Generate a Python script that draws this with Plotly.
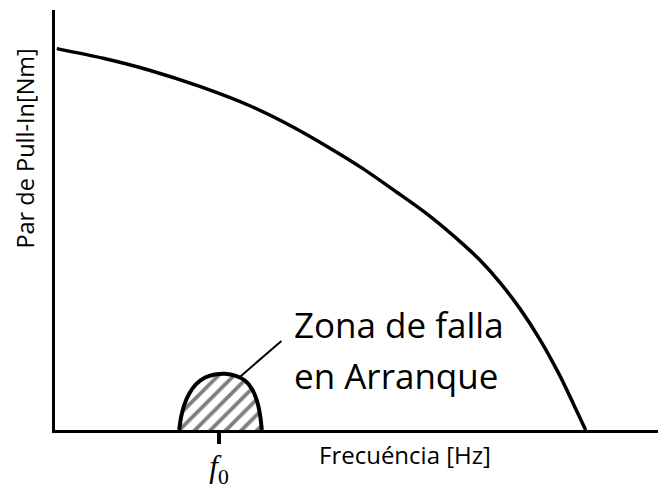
import plotly.graph_objects as go

# Pull-in torque curve (frequency vs torque, arbitrary units)
freq = [0.03, 0.8, 1.58, 2.4, 3.23, 3.9, 4.56, 5.1, 5.67, 6.2, 6.77, 7.05, 7.38, 7.71, 8.04, 8.37, 8.66, 8.80]
torque = [9.08, 8.85, 8.56, 8.18, 7.72, 7.25, 6.71, 6.23, 5.66, 5.11, 4.42, 4.04, 3.51, 2.89, 2.16, 1.30, 0.43, 0.0]

# Start-up failure zone around f0
zone_x = [2.06, 2.09, 2.14, 2.22, 2.34, 2.49, 2.65, 2.82, 3.00, 3.15, 3.27, 3.35, 3.40, 3.43]
zone_y = [0.0, 0.30, 0.58, 0.85, 1.09, 1.25, 1.32, 1.34, 1.29, 1.18, 0.97, 0.69, 0.37, 0.0]

f0 = 2.72
f0_label = "<i>f</i><sub>0</sub>"
zone_lines = ["Zona de falla", "en Arranque"]
x_title = "Frecuéncia [Hz]"
y_title = "Par de Pull-In[Nm]"

fig = go.Figure()

fig.add_trace(go.Scatter(
    x=zone_x, y=zone_y, mode="lines", fill="toself",
    fillcolor="white",
    fillpattern=dict(shape="/", fgcolor="black", bgcolor="white", size=11, solidity=0.35),
    line=dict(color="black", width=4, shape="spline", smoothing=0.8),
    hoverinfo="skip", showlegend=False,
))

fig.add_trace(go.Scatter(
    x=freq, y=torque, mode="lines",
    line=dict(color="black", width=3.5, shape="spline", smoothing=0.8),
    hoverinfo="skip", showlegend=False,
))

# pointer from the label to the failure zone
fig.add_annotation(
    x=3.07, y=1.27, xref="x", yref="y",
    ax=3.78, ay=2.15, axref="x", ayref="y",
    text="", showarrow=True, arrowhead=0, arrowwidth=2, arrowcolor="black",
)
# two-line label with wide line spacing
for line_text, ypos in zip(zone_lines, [2.52, 1.30]):
    fig.add_annotation(
        x=3.93, y=ypos, xref="x", yref="y", xanchor="left", yanchor="middle",
        text=line_text, showarrow=False, align="left",
        font=dict(family="Open Sans", size=35, color="black"),
    )
fig.add_annotation(
    x=0.580, y=-0.059, xref="paper", yref="paper",
    xanchor="center", yanchor="middle", text=x_title, showarrow=False,
    font=dict(family="Open Sans", size=24, color="black"),
)
fig.add_annotation(
    x=-0.0498, y=0.670, xref="paper", yref="paper",
    xanchor="center", yanchor="middle", text=y_title, showarrow=False,
    textangle=-90, font=dict(family="Open Sans", size=23.5, color="black"),
)

fig.update_xaxes(
    range=[0, 10], showgrid=False, zeroline=False,
    showline=True, linecolor="black", linewidth=3,
    tickmode="array", tickvals=[f0], ticktext=[f0_label],
    ticks="outside", ticklen=11, tickwidth=4, tickcolor="black",
    tickfont=dict(family="Liberation Serif", size=31, color="black"),
    ticklabelstandoff=-4,
)
fig.update_yaxes(
    range=[0, 10], showgrid=False, zeroline=False,
    showline=True, linecolor="black", linewidth=3,
    showticklabels=False, ticks="",
)

fig.update_layout(
    width=658, height=489,
    margin=dict(l=55, r=0, t=10, b=46),
    paper_bgcolor="white", plot_bgcolor="white",
)

fig.write_html("out.html")
